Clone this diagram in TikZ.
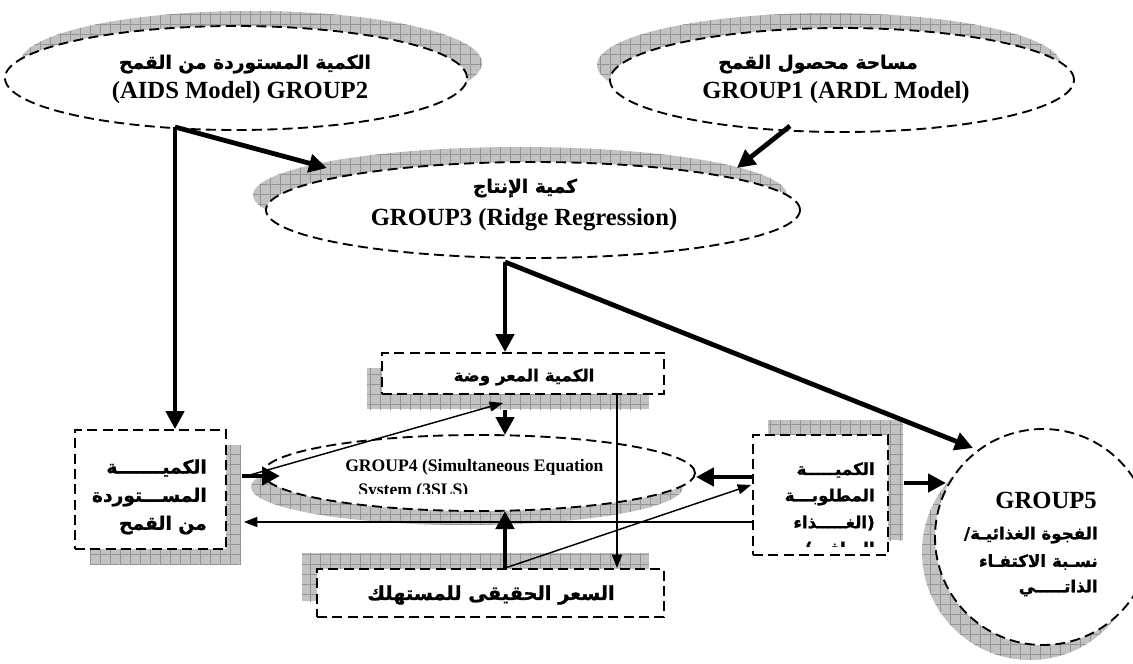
\documentclass[tikz,border=0pt]{standalone}
\usepackage{fontspec}
\setmainfont{Liberation Serif}
\newfontfamily\arabicfont[Script=Arabic, BoldFeatures={FakeBold=1.2}]{DejaVu Sans}
\TeXXeTstate=1
\usetikzlibrary{arrows.meta,shapes.geometric,shadows,patterns,calc}
\newcommand{\myrtl}[1]{\beginR #1\endR}
\pgfdeclarepatternformonly{biggrid}{\pgfqpoint{-0.5pt}{-0.5pt}}{\pgfqpoint{7.5pt}{7.5pt}}{\pgfqpoint{7.5pt}{7.5pt}}{%
  \pgfsetlinewidth{0.4pt}%
  \pgfpathmoveto{\pgfqpoint{0pt}{-0.5pt}}\pgfpathlineto{\pgfqpoint{0pt}{7.5pt}}%
  \pgfpathmoveto{\pgfqpoint{-0.5pt}{0pt}}\pgfpathlineto{\pgfqpoint{7.5pt}{0pt}}%
  \pgfusepath{stroke}}
\begin{document}
\begin{tikzpicture}[x=0.75pt,y=-0.75pt,
  dsh/.style={draw, line width=1.4pt, dash pattern=on 7.5pt off 4pt, fill=white},
  ell/.style={dsh, ellipse, inner sep=0pt},
  box/.style={dsh, rectangle, inner sep=0pt},
  shd/.style 2 args={general shadow={fill=black!24, shadow xshift=#1, shadow yshift=#2},
                     general shadow={pattern=biggrid, pattern color=black!42, shadow xshift=#1, shadow yshift=#2}},
  lat/.style={inner sep=0pt, font=\bfseries\fontsize{18.5}{22}\selectfont},
  latsm/.style={inner sep=0pt, font=\bfseries\fontsize{13.2}{16}\selectfont},
  ar/.style={inner sep=0pt, font=\arabicfont\bfseries\fontsize{14}{17}\selectfont},
  arsm/.style={inner sep=0pt, font=\arabicfont\bfseries\fontsize{12.5}{15}\selectfont},
  arbig/.style={inner sep=0pt, font=\arabicfont\bfseries\fontsize{14.5}{18}\selectfont},
  thk/.style={line width=3.6pt, -{Triangle[length=13.5pt,width=13.5pt]}},
  thn/.style={line width=1.1pt, -{Triangle[length=10pt,width=7.5pt]}},
]
\useasboundingbox (0,0) rectangle (1133,664);

% shapes
\node[ell, shd={11.25pt}{11.25pt}, minimum width=346.5pt, minimum height=78pt] (g2) at (236,78) {};
\node[ell, shd={-9.75pt}{11.25pt}, minimum width=348pt, minimum height=78pt] (g1) at (842,80) {};
\node[ell, shd={-9.75pt}{11.25pt}, minimum width=400.5pt, minimum height=72pt] (g3) at (533,210) {};
\node[ell, shd={-9pt}{-10.5pt}, minimum width=324pt, minimum height=57pt] (g4) at (479,473) {};
\node[ell, shd={-9.75pt}{-11.25pt}, minimum width=162pt, minimum height=162pt] (g5) at (1043,537) {};
\node[box, shd={-11.25pt}{-11.25pt}, minimum width=211.5pt, minimum height=30.75pt] (of) at (523,373.5) {};
\node[box, shd={11.25pt}{-11.25pt}, minimum width=113.25pt, minimum height=89.25pt] (lb) at (150.5,489.5) {};
\node[box, shd={11.25pt}{11.25pt}, minimum width=101.25pt, minimum height=90pt] (rb) at (820.5,495) {};
\node[box, shd={-11.25pt}{12pt}, minimum width=260.25pt, minimum height=36pt] (pr) at (490.5,593) {};

% texts
\node[ar] (g2a) at (245,64) {\myrtl{الكمية المستوردة من القمح}};
\node[lat] (g2b) at (240,93) {(AIDS Model) GROUP2};
\node[ar] (g1a) at (818,64) {\myrtl{مساحة محصول القمح}};
\node[lat] (g1b) at (836,93) {GROUP1 (ARDL Model)};
\node[ar] (g3a) at (525,188) {\myrtl{كمية الإنتاج}};
\node[lat] (g3b) at (524,220) {GROUP3 (Ridge Regression)};
\begin{scope}
\clip (300,440) rectangle (690,493);
\node[latsm, anchor=base west] (g4a) at (345,471) {GROUP4 (Simultaneous Equation};
\node[latsm, anchor=base west] (g4b) at (358,495) {System (3SLS)};
\end{scope}
\node[arsm] (ofa) at (524,377) {\myrtl{الكمية المعر وضة}};
\node[ar, anchor=east] (lb1) at (207,468) {\myrtl{الكميـــــــة}};
\node[ar, anchor=east] (lb2) at (207,497) {\myrtl{المســـتوردة}};
\node[ar, anchor=east] (lb3) at (207,525) {\myrtl{من القمح}};
\begin{scope}
\clip (755,437) rectangle (886,546);
\node[arsm, anchor=east] (rb1) at (875,470) {\myrtl{الكميـــــة}};
\node[arsm, anchor=east] (rb2) at (875,497) {\myrtl{المطلوبـــة}};
\node[arsm, anchor=east] (rb3) at (875,523) {\myrtl{(الغـــــذاء}};
\node[arsm, anchor=east] (rb4) at (875,550) {\myrtl{الصافي)}};
\end{scope}
\node[arbig] (pra) at (491,595) {\myrtl{السعر الحقيقى للمستهلك}};
\node[lat, anchor=east] (g5a) at (1097,500) {GROUP5};
\node[arsm, anchor=east] (g5b) at (1098,535) {\myrtl{الفجوة الغذائيـة/}};
\node[arsm, anchor=east] (g5c) at (1098,562) {\myrtl{نسـبة الاكتفـاء}};
\node[arsm, anchor=east] (g5d) at (1098,588) {\myrtl{الذاتـــــي}};

% connectors
\draw[thk] ($(g2.center)+(-61,49)$) -- ($(lb.north)+(24.5,0)$);
\draw[thk] ($(g2.center)+(-61,49)$) -- ($(g3.center)+(-206,-42)$);
\draw[thk] ($(g1.center)+(-52,46)$) -- ($(g3.center)+(204,-42)$);
\draw[thk] ($(g3.center)+(-28,52)$) -- ($(of.north)+(-18,0)$);
\draw[thk] ($(g3.center)+(-28,52)$) -- ($(g5.center)+(-70,-89)$);
\draw[thk] ($(of.south)+(-18,15)$) -- ($(g4.center)+(26,-38)$);
\draw[thk] ($(pr.north)+(14.5,0)$) -- ($(g4.center)+(26,38)$);
\draw[thk] ($(rb.west)+(0,-18)$) -- ($(g4.east)+(0,4)$);
\draw[thk] ($(rb.east)+(15,-12)$) -- ($(g5.center)+(-97,-54)$);
\draw[thk] ($(lb.east)+(15,-13.5)$) -- ($(g4.center)+(-199,3)$);
\draw[thn] ($(rb.west)+(0,27)$) -- ($(lb.east)+(17,32.5)$);
\draw[thn] ($(of.south)+(94,0)$) -- ($(pr.north)+(126.5,0)$);
\draw[thn] ($(pr.north)+(14.5,0)$) -- ($(rb.west)+(-1,-10)$);
\draw[thn] ($(lb.east)+(16,-12.5)$) -- ($(of.south)+(-20,8)$);
\end{tikzpicture}
\end{document}
